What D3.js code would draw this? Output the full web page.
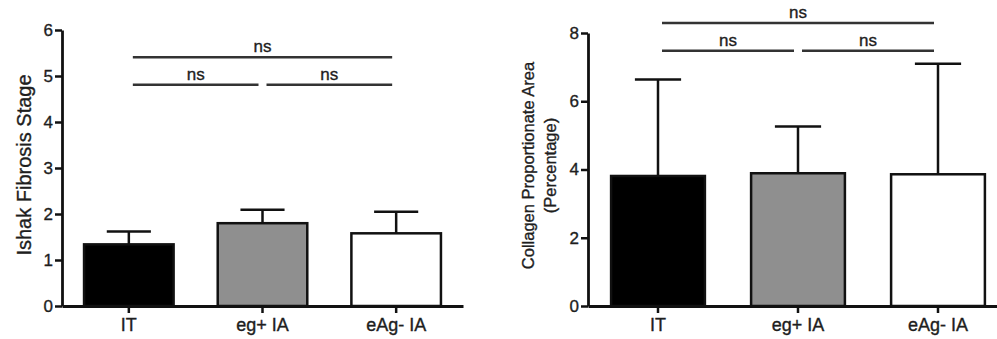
<!DOCTYPE html>
<html>
<head>
<meta charset="utf-8">
<title>Fibrosis bar charts</title>
<script src="https://d3js.org/d3.v7.min.js"></script>
<style>
    body {
        margin: 0;
        overflow: hidden;
        background: #fff;
    }
    text {
        font-family: "Liberation Sans", Arial, sans-serif;
        fill: #1e1e1e;
        stroke: #1e1e1e;
        stroke-width: 0.35px;
    }
</style>
</head>
<body>
<script>
    const groups = ["IT", "eg+ IA", "eAg- IA"];
    const fills = ["#000000", "#8f8f8f", "#ffffff"];

    // Ishak fibrosis stage: mean and mean + error
    const ishakMean = [1.34, 1.80, 1.58];
    const ishakErr = [1.62, 2.09, 2.05];
    const ishakTicks = [0, 1, 2, 3, 4, 5, 6];

    // Collagen proportionate area (%)
    const cpaMean = [3.81, 3.89, 3.86];
    const cpaErr = [6.64, 5.26, 7.10];
    const cpaTicks = [0, 2, 4, 6, 8];

    // significance comparisons: [from, to, level in data units]
    const ishakSig = [[0, 1, 4.81], [1, 2, 4.81], [0, 2, 5.41]];
    const cpaSig = [[0, 1, 7.48], [1, 2, 7.48], [0, 2, 8.29]];
    const sigLabel = "ns";

    const width = 997;
    const height = 339;

    const svg = d3.select("body")
        .append("svg")
        .attr("width", width)
        .attr("height", height);

    function drawPanel(opts) {
        const g = svg.append("g");

        const x = d3.scaleBand()
            .domain(groups)
            .range([opts.x0, opts.x1])
            .padding(0);

        const y = d3.scaleLinear()
            .domain([0, opts.max])
            .range([opts.yBottom, opts.yTop]);

        const barW = x.bandwidth() * 0.67;
        const capW = x.bandwidth() * 0.33;
        const cx = function(i) { return x(groups[i]) + x.bandwidth() / 2; };

        // error bars (drawn first so the bar covers the lower half)
        g.append("g")
            .selectAll("g")
            .data(groups)
            .join("g")
            .each(function(d, i) {
                const e = d3.select(this);
                e.append("line")
                    .attr("x1", cx(i)).attr("x2", cx(i))
                    .attr("y1", y(opts.mean[i])).attr("y2", y(opts.err[i]))
                    .attr("stroke", "#111").attr("stroke-width", 2.5);
                e.append("line")
                    .attr("x1", cx(i) - capW / 2).attr("x2", cx(i) + capW / 2)
                    .attr("y1", y(opts.err[i])).attr("y2", y(opts.err[i]))
                    .attr("stroke", "#111").attr("stroke-width", 2.5);
            });

        g.append("g")
            .selectAll("rect")
            .data(groups)
            .join("rect")
            .attr("x", function(d, i) { return cx(i) - barW / 2; })
            .attr("y", function(d, i) { return y(opts.mean[i]); })
            .attr("width", barW)
            .attr("height", function(d, i) { return y(0) - y(opts.mean[i]); })
            .attr("fill", function(d, i) { return fills[i]; })
            .attr("stroke", "#111")
            .attr("stroke-width", 2.5);

        // axes
        const yAxis = g.append("g")
            .attr("transform", "translate(" + opts.x0 + ",0)")
            .call(d3.axisLeft(y).tickValues(opts.ticks).tickFormat(d3.format("d"))
                .tickSize(7).tickSizeOuter(0).tickPadding(2));

        const xAxis = g.append("g")
            .attr("transform", "translate(0," + opts.yBottom + ")")
            .call(d3.axisBottom(x).tickSize(7).tickSizeOuter(0).tickPadding(5));

        [yAxis, xAxis].forEach(function(a) {
            a.select(".domain").attr("stroke", "#111").attr("stroke-width", 2.8);
            a.selectAll(".tick line").attr("stroke", "#111").attr("stroke-width", 2.5);
            a.selectAll(".tick text").attr("fill", "#1e1e1e")
                .attr("font-family", "'Liberation Sans', Arial, sans-serif");
        });
        yAxis.selectAll(".tick text").attr("font-size", 17);
        xAxis.selectAll(".tick text").attr("font-size", 18);

        // y label
        const lab = g.append("text")
            .attr("transform", "translate(" + opts.labelX + "," + ((opts.yTop + opts.yBottom) / 2 + opts.labelDy) + ") rotate(-90)")
            .attr("text-anchor", "middle")
            .attr("font-size", opts.labelSize);
        opts.label.forEach(function(t, i) {
            lab.append("tspan")
                .attr("x", 0)
                .attr("dy", i === 0 ? 0 : "1.33em")
                .text(t);
        });

        // significance lines
        const sg = g.append("g");
        opts.sig.forEach(function(s) {
            const a = cx(s[0]) + 4;
            const b = cx(s[1]) - 4;
            sg.append("line")
                .attr("x1", a).attr("x2", b)
                .attr("y1", y(s[2])).attr("y2", y(s[2]))
                .attr("stroke", "#333").attr("stroke-width", 2.5);
            sg.append("text")
                .attr("x", (a + b) / 2)
                .attr("y", y(s[2]) - 5)
                .attr("text-anchor", "middle")
                .attr("font-size", 17)
                .text(sigLabel);
        });
    }

    drawPanel({
        x0: 62, x1: 463, yTop: 30, yBottom: 306, max: 6,
        mean: ishakMean, err: ishakErr, ticks: ishakTicks, sig: ishakSig,
        label: ["Ishak Fibrosis Stage"], labelX: 31, labelSize: 20, labelDy: -3
    });

    drawPanel({
        x0: 588, x1: 1008, yTop: 33, yBottom: 306, max: 8,
        mean: cpaMean, err: cpaErr, ticks: cpaTicks, sig: cpaSig,
        label: ["Collagen Proportionate Area", "(Percentage)"], labelX: 534, labelSize: 16.5, labelDy: -4
    });
</script>
</body>
</html>
